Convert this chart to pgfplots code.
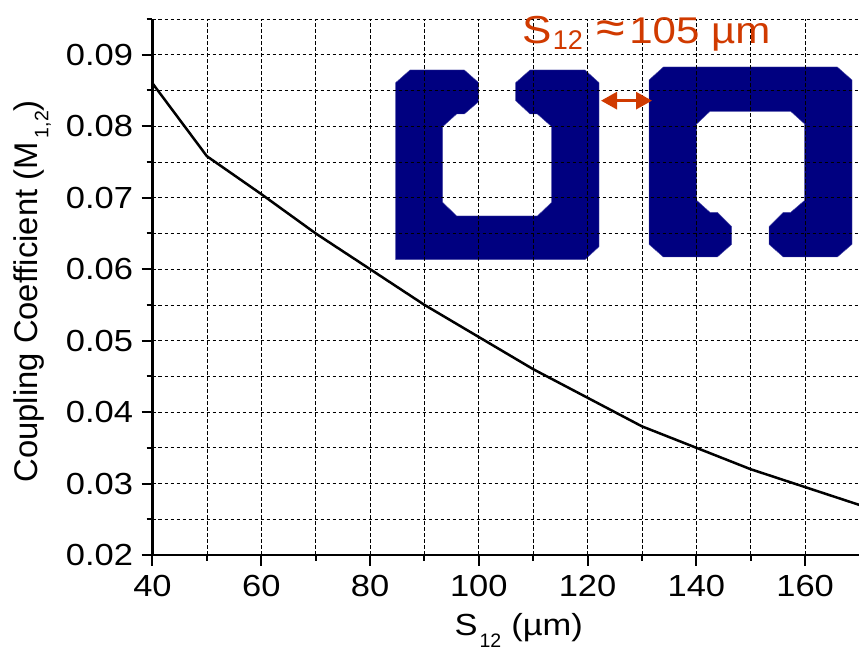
\documentclass[border=0pt]{standalone}
\usepackage{pgfplots}
\usetikzlibrary{arrows.meta}
\pgfplotsset{compat=1.18}
\usepackage{fontspec}
\setmainfont[FakeStretch=1.13]{Liberation Sans}
\newfontfamily\plainsans{Liberation Sans}
\definecolor{shape}{HTML}{000080}
\definecolor{note}{HTML}{D03A00}
\newcommand{\subt}[2]{\raisebox{-#1pt}{\plainsans\fontsize{19.5}{19.5}\selectfont #2}}
\begin{document}
\begin{tikzpicture}[x=1pt,y=1pt]
\path[use as bounding box] (0,0) rectangle (859,655);
% inset shapes, in a pixel grid of their own, under the main grid
\begin{axis}[at={(380pt,375pt)},anchor=south west,scale only axis,width=479pt,height=280pt,
  xmin=0,xmax=1437,ymin=0,ymax=840,y dir=reverse,axis lines=none,clip=false]
\addplot[fill=shape,draw=shape!70!white,line width=0.4pt] coordinates {(47,248)(90,210)(253,210)(296,248)(296,305)(253,342)(230,342)(188,380)(188,607)(230,648)(472,648)(515,607)(515,380)(472,342)(450,342)(407,302)(407,248)(450,210)(615,210)(657,248)(657,740)(615,779)(47,779)} -- cycle;
\addplot[fill=shape,draw=shape!70!white,line width=0.4pt] coordinates {(807,240)(850,201)(1372,201)(1416,240)(1416,733)(1372,771)(1210,771)(1167,733)(1167,680)(1210,637)(1232,637)(1274,601)(1274,372)(1232,334)(990,334)(950,372)(950,601)(990,637)(1012,637)(1055,680)(1055,733)(1012,771)(850,771)(807,733)} -- cycle;
\end{axis}
% main axis
\begin{axis}[at={(152.5pt,100pt)},anchor=south west,scale only axis,width=707pt,height=536pt,
  xmin=40,xmax=170,ymin=0.02,ymax=0.095,
  axis x line=bottom,axis y line=left,
  axis line style={-,line width=2.2pt,black},
  xtick={40,60,...,160},minor xtick={50,70,...,170},
  ytick={0.02,0.03,...,0.09},minor ytick={0.025,0.035,...,0.095},
  tick align=outside,tick pos=left,
  major tick length=11pt,minor tick length=6pt,
  every tick/.style={black,line width=2pt},
  minor tick/.style={black,line width=1.8pt},
  grid=both,
  major grid style={black,dashed,line width=0.7pt,dash pattern=on 3.5pt off 2.5pt},
  minor grid style={black,dashed,line width=0.7pt,dash pattern=on 3.5pt off 2.5pt},
  tick label style={font=\fontsize{30.5}{32}\selectfont},
  y tick label style={/pgf/number format/.cd,fixed,fixed zerofill,precision=2,/tikz/.cd,xshift=-5pt},
  /pgf/number format/assume math mode=true,
  x tick label style={yshift=-6pt},
  scaled y ticks=false,
  xlabel={S\hspace{2pt}\subt{12}{12}\hspace{10pt}(µm)},
  ylabel={\plainsans Coupling Coefficient (M\hspace{4pt}\subt{11}{1,2})},
  xlabel style={font=\fontsize{30.5}{32}\selectfont,at={(axis description cs:0.518,-0.15)},anchor=base},
  ylabel style={font=\fontsize{32.8}{34}\selectfont,at={(axis description cs:-0.1627,0.492)},anchor=base},
  clip=false]
\addplot[black,line width=2.5pt,no marks] coordinates {(40,0.086)(50,0.0758)(60,0.0705)(70,0.065)(80,0.06)(90,0.055)(100,0.0505)(110,0.046)(120,0.042)(130,0.038)(140,0.035)(150,0.032)(160,0.0295)(170,0.027)};
\end{axis}
% annotation
\begin{axis}[at={(380pt,375pt)},anchor=south west,scale only axis,width=479pt,height=280pt,
  xmin=0,xmax=1437,ymin=0,ymax=840,y dir=reverse,axis lines=none,clip=false]
\addplot[note,line width=2.8pt,<->,>={Stealth[length=16pt,width=17pt,inset=0pt]}] coordinates {(663,302)(816,302)};
\node[note,anchor=base west,inner sep=0pt,font=\fontsize{39}{40}\selectfont] at (axis cs:428,132) {S\hspace{0.5pt}\raisebox{-6pt}{\plainsans\fontsize{27}{27}\selectfont 12}\hspace{14pt}{\fontsize{46}{46}\selectfont ≈}\hspace{4pt}{\fontsize{37.2}{40}\selectfont 105 µm}};
\end{axis}
\end{tikzpicture}
\end{document}
